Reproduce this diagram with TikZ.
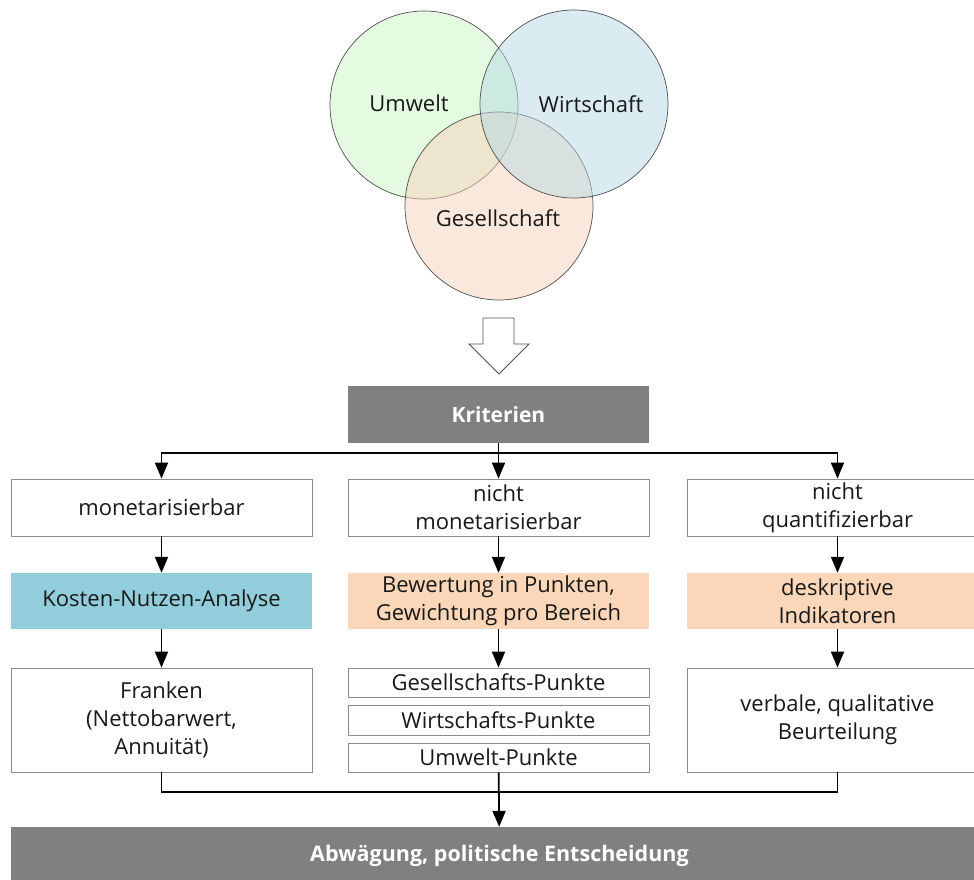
\documentclass[tikz,border=0pt]{standalone}
\usepackage{fontspec}
\setmainfont{Open Sans}
\usetikzlibrary{arrows.meta}

\definecolor{boxline}{RGB}{140,140,140}
\definecolor{circline}{RGB}{80,80,80}
\definecolor{darkbar}{RGB}{128,128,128}
\definecolor{knafill}{RGB}{146,205,219}
\definecolor{peachfill}{RGB}{251,214,184}
\definecolor{umweltc}{RGB}{201,245,195}
\definecolor{wirtschaftc}{RGB}{181,217,229}
\definecolor{gesellc}{RGB}{247,209,185}
\definecolor{inkc}{RGB}{25,25,25}

\begin{document}
\begin{tikzpicture}[x=1pt,y=-1pt,
  font=\fontsize{22}{28}\selectfont,
  text=inkc,
  venn/.style={circle, draw=circline, line width=0.7pt, minimum size=188pt,
    inner sep=0pt, fill opacity=0.5},
  plainbox/.style={draw=boxline, line width=0.8pt, fill=white,
    minimum width=301pt, inner sep=0pt, align=center},
  colourbox/.style={minimum width=301pt, minimum height=56pt,
    inner sep=0pt, align=center},
  darkbox/.style={fill=darkbar, text=white, font=\fontsize{21}{27}\selectfont\bfseries,
    minimum height=57pt, inner sep=0pt},
  conn/.style={line width=1.8pt, -{Triangle[width=13pt,length=16pt]}},
  joinline/.style={line width=1.8pt}]

\clip (0,0) rectangle (974,879);

% three overlapping spheres of sustainability
\node[venn, fill=umweltc] (cU) at (424,105) {};
\node[venn, fill=gesellc] (cG) at (499,206) {};
\node[venn, fill=wirtschaftc] (cW) at (574,104) {};
\node (tU) at (409,103) {Umwelt};
\node (tW) at (591,104) {Wirtschaft};
\node (tG) at (498,218) {Gesellschaft};

% hollow block arrow
\draw[draw=circline, line width=0.8pt, fill=white]
  (483,318) -- (514,318) -- (514,344) -- (529,344) -- (499,374)
  -- (469,344) -- (483,344) -- cycle;

% criteria header
\node[darkbox, minimum width=301pt] (krit) at (498.5,414.5) {Kriterien};

% first row
\node[plainbox, minimum height=57pt] (m1) at (161.5,507.5) {monetarisierbar};
\node[plainbox, minimum height=57pt] (n1) at (498.5,507.5) {nicht\\monetarisierbar};
\node[plainbox, minimum height=57pt] (q1) at (837.5,507.5) {nicht\\quantifizierbar};

% second row: methods
\node[colourbox, fill=knafill] (m2) at (161.5,601) {Kosten-Nutzen-Analyse};
\node[colourbox, fill=peachfill] (n2) at (498.5,601) {Bewertung in Punkten,\\Gewichtung pro Bereich};
\node[colourbox, fill=peachfill] (q2) at (837.5,601) {deskriptive\\Indikatoren};

% third row: results
\node[plainbox, minimum height=104pt] (m3) at (161.5,720) {Franken\\(Nettobarwert,\\Annuität)};
\node[plainbox, minimum height=29pt] (n3a) at (498.5,682.5) {Gesellschafts-Punkte};
\node[plainbox, minimum height=30pt] (n3b) at (498.5,720) {Wirtschafts-Punkte};
\node[plainbox, minimum height=29pt] (n3c) at (498.5,757.5) {Umwelt-Punkte};
\node[plainbox, minimum height=104pt] (q3) at (837.5,720) {verbale, qualitative\\Beurteilung};

% final decision bar
\node[darkbox, minimum width=977pt, font=\fontsize{21.5}{27}\selectfont\bfseries] (dec) at (499.5,855.5) {Abwägung, politische Entscheidung};

% connectors
\coordinate (split) at (498.5,453);
\coordinate (join) at (498.5,792);
\draw[conn] (krit) -- (n1);
\draw[conn] (split) -| (m1.north);
\draw[conn] (split) -| (q1.north);
\draw[conn] (m1) -- (m2);
\draw[conn] (n1) -- (n2);
\draw[conn] (q1) -- (q2);
\draw[conn] (m2) -- (m3);
\draw[conn] (n2) -- (n3a);
\draw[conn] (q2) -- (q3);
\draw[joinline] (m3.south) |- (join);
\draw[joinline] (q3.south) |- (join);
\draw[conn] (n3c) -- (dec);
\end{tikzpicture}
\end{document}
